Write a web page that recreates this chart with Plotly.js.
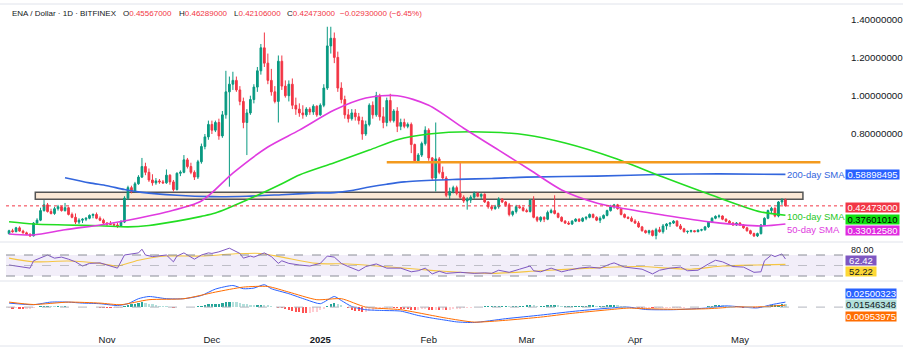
<!DOCTYPE html>
<html><head><meta charset="utf-8">
<script src="https://cdn.plot.ly/plotly-3.0.1.min.js"></script>
<style>html,body{margin:0;padding:0;background:#fff;}#chart{width:903px;height:350px;}</style>
</head><body><div id="chart"></div><script>
// ---- daily candles, 2024-10-04 .. 2025-05-14 ----
const firstDay = [2024, 9, 4];
const open = [
.280,.295,.290,.310,.293,.284,.276,.268,.335,.350,.400,.430,.395,.385,.410,.420,.400,.415,.380,.365,.340,.350,.355,.360,.375,.380,.360,.350,
.335,.332,.328,.325,.320,.340,.465,.520,.500,.540,.575,.630,.600,.560,.545,.555,.550,.545,.585,.550,.510,.595,.600,.665,.630,.600,.575,.655,.735,.785,
.850,.820,.860,.790,.900,1.020,1.060,1.080,1.030,.970,.860,.910,.980,1.045,1.130,1.250,1.170,1.080,1.020,.970,1.180,1.050,1.000,1.060,.950,.930,.910,.900,.930,.915,.945,
.900,.950,1.040,1.260,1.300,1.200,1.040,.980,.900,.880,.910,.890,.870,.800,.850,.950,.900,1.000,.890,.860,.975,.870,.920,.840,.860,.840,.850,.745,.660,.690,.750,
.820,.675,.570,.670,.600,.570,.480,.500,.520,.490,.470,.450,.455,.470,.490,.475,.485,.445,.420,.410,.420,.460,.445,.430,.380,.395,.420,.415,
.400,.395,.455,.365,.350,.365,.355,.390,.400,.385,.365,.345,.335,.330,.345,.355,.345,.360,.365,.380,.365,.350,.360,.375,.400,.420,.430,.410,.380,.365,.360,
.345,.335,.315,.295,.285,.295,.270,.300,.290,.320,.330,.335,.345,.320,.305,.290,.292,.295,.290,.298,.300,.315,.340,.360,.370,.372,.355,.345,.335,.325,
.335,.325,.310,.295,.280,.268,.280,.325,.360,.400,.412,.372,.445,.45567];
const high = [
.300,.305,.315,.318,.300,.290,.282,.340,.360,.415,.455,.440,.410,.420,.430,.425,.440,.420,.390,.385,.360,.360,.365,.380,.385,.390,.370,.358,
.340,.345,.340,.335,.350,.475,.530,.530,.550,.585,.675,.650,.620,.590,.570,.565,.560,.615,.590,.560,.600,.610,.690,.675,.650,.610,.665,.750,.800,.870,
.870,.870,.880,.920,1.130,1.100,1.125,1.100,1.050,.990,.930,1.000,1.060,1.150,1.270,1.330,1.220,1.140,1.050,1.210,1.210,1.080,1.080,1.090,.990,.960,.950,.940,.940,.955,.950,
.960,1.060,1.360,1.360,1.330,1.230,1.070,1.000,.930,.930,.930,.910,.890,.870,.960,.970,1.020,1.010,.940,.990,1.010,.930,.940,.880,.880,.860,.860,.750,.700,.760,.840,
.830,.680,.860,.680,.630,.580,.520,.530,.530,.650,.480,.470,.480,.500,.495,.490,.490,.450,.430,.430,.470,.465,.450,.440,.400,.430,.430,.420,
.410,.460,.475,.370,.370,.370,.400,.410,.480,.390,.370,.350,.345,.350,.360,.360,.365,.370,.385,.385,.370,.370,.380,.405,.430,.435,.435,.415,.385,.370,.370,
.355,.345,.320,.300,.300,.300,.310,.315,.330,.335,.340,.350,.350,.330,.310,.295,.300,.297,.302,.305,.320,.345,.365,.375,.380,.375,.360,.350,.340,.340,
.340,.330,.315,.300,.285,.285,.330,.365,.405,.420,.418,.450,.465,.46289];
const low = [
.275,.285,.287,.290,.280,.272,.262,.265,.328,.345,.395,.390,.380,.378,.400,.395,.395,.375,.360,.330,.330,.335,.345,.355,.360,.355,.345,.330,
.320,.325,.315,.310,.315,.335,.455,.490,.495,.535,.570,.585,.550,.530,.535,.540,.540,.540,.535,.500,.505,.580,.595,.620,.590,.560,.565,.645,.720,.770,
.800,.810,.770,.780,.880,.525,1.030,1.020,.950,.830,.690,.900,.960,1.020,1.110,1.150,1.060,1.000,.960,.860,1.030,.990,.970,.930,.900,.890,.880,.890,.900,.900,.890,
.895,.940,1.030,1.220,1.170,1.020,.960,.880,.860,.870,.870,.850,.770,.790,.840,.880,.890,.870,.830,.840,.860,.860,.810,.820,.830,.830,.700,.650,.650,.680,.740,
.660,.560,.500,.590,.560,.470,.460,.490,.480,.460,.440,.405,.440,.460,.470,.460,.440,.410,.400,.405,.410,.440,.420,.370,.370,.385,.410,.395,
.390,.390,.360,.340,.340,.340,.350,.385,.380,.360,.340,.330,.325,.325,.340,.340,.340,.350,.360,.360,.345,.335,.355,.370,.395,.410,.405,.375,.360,.355,.340,
.330,.310,.290,.280,.275,.265,.250,.285,.280,.300,.315,.330,.315,.300,.285,.280,.285,.287,.287,.292,.295,.310,.335,.355,.360,.350,.340,.330,.320,.320,
.320,.305,.290,.275,.262,.262,.275,.320,.355,.385,.365,.365,.430,.42106];
const close = [
.295,.290,.310,.293,.284,.276,.268,.335,.350,.400,.430,.395,.385,.410,.420,.400,.415,.380,.365,.340,.350,.355,.360,.375,.380,.360,.350,.335,
.330,.328,.325,.320,.340,.465,.520,.500,.540,.575,.630,.600,.560,.545,.555,.550,.545,.585,.550,.510,.595,.600,.665,.630,.600,.575,.655,.735,.785,.850,
.820,.860,.790,.900,1.020,1.060,1.080,1.030,.970,.860,.910,.980,1.045,1.130,1.250,1.170,1.080,1.020,.970,1.180,1.050,1.000,1.060,.950,.930,.910,.900,.930,.915,.945,.900,
.950,1.040,1.260,1.300,1.200,1.040,.980,.900,.880,.910,.890,.870,.800,.850,.950,.900,1.000,.890,.860,.975,.870,.920,.840,.860,.840,.850,.745,.660,.690,.750,.820,
.675,.570,.670,.600,.570,.480,.500,.520,.490,.470,.450,.460,.470,.490,.475,.485,.445,.420,.410,.420,.460,.445,.430,.380,.395,.420,.415,.400,
.395,.455,.365,.350,.365,.355,.390,.400,.385,.365,.345,.335,.330,.345,.355,.345,.360,.365,.380,.365,.350,.360,.375,.400,.420,.430,.410,.380,.365,.360,.345,
.335,.315,.295,.285,.295,.270,.300,.290,.320,.330,.335,.345,.320,.305,.290,.292,.295,.290,.298,.300,.315,.340,.360,.370,.372,.355,.345,.335,.325,.335,
.325,.310,.295,.280,.268,.280,.325,.360,.400,.412,.372,.445,.45403,.42473];

// ---- moving averages (read at sample dates) ----
const sma200Dates = ['2024-10-20','2024-10-27','2024-11-01','2024-11-06','2024-11-11','2024-11-21','2024-12-01','2024-12-11','2024-12-21','2024-12-31','2025-01-05','2025-01-10','2025-01-15','2025-01-20','2025-01-25','2025-02-04','2025-02-09','2025-02-19','2025-03-01','2025-03-21','2025-04-10','2025-04-25','2025-05-14'];
const sma200 = [0.572,0.545,0.530,0.510,0.495,0.480,0.473,0.475,0.483,0.492,0.494,0.505,0.523,0.538,0.550,0.560,0.563,0.568,0.575,0.580,0.590,0.592,0.589];
const sma100Dates = ['2024-10-04','2024-10-11','2024-10-20','2024-10-30','2024-11-07','2024-11-13','2024-11-21','2024-11-28','2024-12-02','2024-12-11','2024-12-21','2024-12-26','2025-01-05','2025-01-15','2025-01-23','2025-02-01','2025-02-13','2025-03-01','2025-03-12','2025-03-26','2025-04-09','2025-04-23','2025-05-07','2025-05-14'];
const sma100 = [0.342,0.330,0.325,0.321,0.315,0.322,0.345,0.370,0.387,0.455,0.540,0.586,0.650,0.716,0.770,0.800,0.812,0.795,0.753,0.675,0.575,0.480,0.393,0.376];
const sma50Dates = ['2024-10-04','2024-10-11','2024-10-20','2024-10-30','2024-11-07','2024-11-18','2024-11-28','2024-12-07','2024-12-17','2024-12-26','2025-01-05','2025-01-14','2025-01-23','2025-02-01','2025-02-11','2025-02-21','2025-03-02','2025-03-11','2025-03-21','2025-03-26','2025-04-09','2025-04-23','2025-05-07','2025-05-14'];
const sma50 = [0.278,0.273,0.300,0.325,0.350,0.393,0.450,0.596,0.732,0.820,0.925,0.988,1.000,0.950,0.830,0.716,0.612,0.508,0.440,0.420,0.377,0.340,0.320,0.330];
const smaLast = [0.58898495, 0.37601010, 0.33012580];

// ---- levels ----
const zonePrice = [0.459, 0.496];
const zoneDates = ['2024-10-11 12:00', '2025-05-19'];
const resistPrice = 0.653;
const resistDates = ['2025-01-20', '2025-05-24'];

// ---- RSI ----
const rsiDates = ['2024-10-04','2024-10-07','2024-10-10','2024-10-11','2024-10-13','2024-10-15','2024-10-17','2024-10-19','2024-10-21','2024-10-23','2024-10-25','2024-10-27','2024-10-30','2024-11-02','2024-11-04','2024-11-06','2024-11-08','2024-11-10','2024-11-11','2024-11-12','2024-11-14','2024-11-16','2024-11-18','2024-11-20','2024-11-21','2024-11-23','2024-11-25','2024-11-26','2024-11-28','2024-11-30','2024-12-01','2024-12-03','2024-12-06','2024-12-07','2024-12-09','2024-12-10','2024-12-12','2024-12-13','2024-12-16','2024-12-18','2024-12-20','2024-12-21','2024-12-23','2024-12-26','2024-12-29','2025-01-01','2025-01-03','2025-01-05','2025-01-07','2025-01-09','2025-01-12','2025-01-14','2025-01-17','2025-01-20','2025-01-24','2025-01-27','2025-01-29','2025-01-31','2025-02-02','2025-02-04','2025-02-06','2025-02-10','2025-02-14','2025-02-17','2025-02-19','2025-02-21','2025-02-24','2025-02-27','2025-03-02','2025-03-03','2025-03-05','2025-03-08','2025-03-11','2025-03-13','2025-03-16','2025-03-19','2025-03-22','2025-03-25','2025-03-26','2025-03-29','2025-03-31','2025-04-03','2025-04-06','2025-04-08','2025-04-11','2025-04-14','2025-04-16','2025-04-19','2025-04-22','2025-04-24','2025-04-26','2025-04-29','2025-05-02','2025-05-05','2025-05-07','2025-05-08','2025-05-10','2025-05-11','2025-05-13','2025-05-14'];
const rsi = [51,48,45,59,64,70,64,66,62,57,49,54,55,49,45,70,72,74,81,70,67,68,70,57,68,74,66,62,70,74,73,76,83,80,73,64,68,66,74,67,54,59,54,51,49,54,68,66,54,48,40,48,53,45,45,38,40,45,34,39,35,37,35,36,35,41,37,43,49,40,38,45,38,41,45,47,45,53,55,47,45,43,34,41,45,47,40,41,53,60,57,48,47,37,38,59,70,67,72,62.42];
const rsiMaDates = ['2024-10-04','2024-10-11','2024-10-21','2024-10-30','2024-11-04','2024-11-10','2024-11-18','2024-11-28','2024-12-07','2024-12-15','2024-12-21','2024-12-31','2025-01-09','2025-01-19','2025-01-29','2025-02-04','2025-02-19','2025-03-05','2025-03-19','2025-04-02','2025-04-17','2025-04-26','2025-05-06','2025-05-14'];
const rsiMa = [64,57,58.5,54,49,60,68,68,72,73,66,54,53,48,43,39.5,35,40,45,48,43,49,51,52.22];

// ---- MACD ----
const macdDates = ['2024-10-04','2024-10-11','2024-10-16','2024-10-21','2024-10-25','2024-10-30','2024-11-04','2024-11-07','2024-11-10','2024-11-13','2024-11-18','2024-11-23','2024-11-28','2024-12-02','2024-12-07','2024-12-10','2024-12-13','2024-12-16','2024-12-18','2024-12-23','2024-12-28','2025-01-01','2025-01-05','2025-01-07','2025-01-10','2025-01-14','2025-01-19','2025-01-24','2025-01-29','2025-02-02','2025-02-06','2025-02-09','2025-02-14','2025-02-23','2025-03-05','2025-03-14','2025-03-24','2025-03-30','2025-04-04','2025-04-12','2025-04-22','2025-04-27','2025-05-06','2025-05-10','2025-05-14'];
const macd = [0.020,0.012,0.025,0.025,0.020,0.017,0.008,0.017,0.042,0.053,0.042,0.042,0.058,0.090,0.108,0.092,0.095,0.112,0.092,0.067,0.037,0.017,0.053,0.033,0.003,-0.013,-0.017,-0.020,-0.042,-0.055,-0.066,-0.074,-0.077,-0.058,-0.040,-0.022,-0.006,0.000,-0.012,-0.013,-0.004,0.006,-0.004,0.012,0.02500323];
const signalDates = ['2024-10-04','2024-10-11','2024-10-21','2024-10-30','2024-11-05','2024-11-13','2024-11-23','2024-12-02','2024-12-10','2024-12-17','2024-12-23','2024-12-31','2025-01-07','2025-01-14','2025-01-24','2025-02-02','2025-02-06','2025-02-14','2025-02-23','2025-03-05','2025-03-14','2025-03-24','2025-03-30','2025-04-04','2025-04-12','2025-04-22','2025-04-30','2025-05-06','2025-05-14'];
const signal = [0.025,0.013,0.025,0.020,0.012,0.037,0.042,0.075,0.100,0.103,0.075,0.037,0.042,0.000,-0.013,-0.042,-0.055,-0.075,-0.066,-0.050,-0.031,-0.014,-0.005,-0.008,-0.011,-0.008,0.001,0.001,0.00953975];
const hist = [
-0.006,-0.007,-0.006,-0.007,-0.008,-0.008,-0.007,-0.003,0.001,0.004,0.006,0.007,0.006,0.005,0.005,0.004,0.004,0.003,0.002,0.001,0,-0.001,-0.001,0,0.001,0,-0.002,-0.003,
-0.004,-0.005,-0.005,-0.005,-0.004,0.004,0.010,0.014,0.017,0.020,0.025,0.022,0.018,0.014,0.010,0.007,0.005,0.004,0.001,-0.002,-0.001,0,0.002,0.003,0.002,0.001,0.004,0.008,0.012,0.015,
0.017,0.018,0.018,0.021,0.025,0.028,0.027,0.025,0.022,0.018,0.015,0.013,0.012,0.012,0.013,0.012,0.009,0.005,0.001,-0.002,-0.005,-0.010,-0.014,-0.018,-0.022,-0.025,-0.028,-0.030,-0.028,-0.025,-0.022,
-0.015,-0.008,0.005,0.015,0.020,0.017,0.010,0.002,-0.006,-0.012,-0.017,-0.021,-0.025,-0.022,-0.018,-0.014,-0.010,-0.007,-0.006,-0.005,-0.004,-0.005,-0.006,-0.007,-0.008,-0.010,-0.012,-0.014,-0.013,-0.011,-0.010,
-0.012,-0.015,-0.014,-0.015,-0.014,-0.015,-0.013,-0.011,-0.009,-0.008,-0.006,-0.004,-0.002,0,0.002,0.003,0.004,0.005,0.005,0.006,0.007,0.007,0.007,0.006,0.007,0.008,0.008,0.008,
0.009,0.010,0.009,0.008,0.008,0.008,0.009,0.010,0.010,0.009,0.008,0.008,0.008,0.008,0.008,0.008,0.008,0.008,0.009,0.009,0.008,0.008,0.008,0.009,0.010,0.010,0.009,0.007,0.005,0.003,0.001,
-0.001,-0.003,-0.004,-0.004,-0.004,-0.005,-0.004,-0.004,-0.003,-0.003,-0.002,-0.002,-0.002,-0.002,-0.002,-0.001,-0.001,0,0,0.001,0.002,0.004,0.007,0.009,0.010,0.009,0.007,0.005,0.003,0.001,
-0.001,-0.002,-0.003,-0.004,-0.005,-0.005,-0.003,0.001,0.005,0.009,0.012,0.013,0.016,0.01546348];

// ---- axis tick labels ----
const monthTicks = ['2024-11-01','2024-12-01','2025-01-01','2025-02-01','2025-03-01','2025-04-01','2025-05-01'];
const monthLabels = ['Nov','Dec','<b>2025</b>','Feb','Mar','Apr','May'];
const priceTicks = [0.8, 1.0, 1.2, 1.4];

// ---------------------------------------------------------------
const dates = open.map((_, i) => new Date(Date.UTC(firstDay[0], firstDay[1], firstDay[2] + i)).toISOString().slice(0, 10));
const n = close.length;
const UP = '#089981', DN = '#F23645';
const histColors = hist.map((v, i) => {
  const p = i > 0 ? hist[i - 1] : v;
  if (v >= 0) return v >= p ? '#26A69A' : '#B2DFDB';
  return v < p ? '#FF5252' : '#FFCDD2';
});
const C200 = '#3366DD', C100 = '#22DD22', C50 = '#E03BE0';
const FONT = 'Liberation Sans, Arial, sans-serif';

const traces = [
  {type:'candlestick', x:dates, open:open, high:high, low:low, close:close, xaxis:'x', yaxis:'y',
   increasing:{line:{color:UP,width:1}, fillcolor:UP}, decreasing:{line:{color:DN,width:1}, fillcolor:DN},
   whiskerwidth:0, hoverinfo:'skip'},
  {type:'scatter', mode:'lines', x:sma200Dates, y:sma200, line:{color:C200,width:1.6,shape:'spline',smoothing:0.8}, yaxis:'y', hoverinfo:'skip'},
  {type:'scatter', mode:'lines', x:sma100Dates, y:sma100, line:{color:C100,width:1.6,shape:'spline',smoothing:0.8}, yaxis:'y', hoverinfo:'skip'},
  {type:'scatter', mode:'lines', x:sma50Dates, y:sma50, line:{color:C50,width:1.6,shape:'spline',smoothing:0.8}, yaxis:'y', hoverinfo:'skip'},
  {type:'scatter', mode:'lines', x:rsiMaDates, y:rsiMa, line:{color:'#F5C542',width:1.1,shape:'spline',smoothing:0.8}, yaxis:'y2', hoverinfo:'skip'},
  {type:'scatter', mode:'lines', x:rsiDates, y:rsi, line:{color:'#7E57C2',width:1}, yaxis:'y2', hoverinfo:'skip'},
  {type:'bar', x:dates, y:hist, marker:{color:histColors, line:{width:0}}, width:0.65*86400000, yaxis:'y3', hoverinfo:'skip'},
  {type:'scatter', mode:'lines', x:macdDates, y:macd, line:{color:'#2962FF',width:1,shape:'spline',smoothing:0.6}, yaxis:'y3', hoverinfo:'skip'},
  {type:'scatter', mode:'lines', x:signalDates, y:signal, line:{color:'#FF6D00',width:1,shape:'spline',smoothing:0.6}, yaxis:'y3', hoverinfo:'skip'}
];

// pixel helpers for paper coordinates (plot area 6..843 x 5..330)
const PL = 6, PR = 60, PT = 5, PB = 20, W = 903, H = 350;
const pw = W - PL - PR, ph = H - PT - PB;
const py = (pix) => (H - PB - pix) / ph;
const pxr = (pix) => (pix - PL) / pw;

const sep = (pix) => ({type:'line', xref:'paper', yref:'paper', x0:pxr(0), x1:pxr(903), y0:py(pix), y1:py(pix), line:{color:'#E0E3EB', width:1}});
const shapes = [
  {type:'rect', xref:'x', yref:'y', x0:zoneDates[0], x1:zoneDates[1], y0:zonePrice[0], y1:zonePrice[1], fillcolor:'#FCE9D6', line:{color:'#555555', width:1.5}, layer:'below'},
  {type:'line', xref:'x', yref:'y', x0:resistDates[0], x1:resistDates[1], y0:resistPrice, y1:resistPrice, line:{color:'#F39A1E', width:2.5}},
  {type:'line', xref:'paper', yref:'y', x0:0, x1:1, y0:close[n-1], y1:close[n-1], line:{color:DN, width:1, dash:'dot'}},
  {type:'rect', xref:'paper', yref:'y2', x0:0, x1:1, y0:30, y1:70, fillcolor:'rgba(126,87,194,0.10)', line:{width:0}, layer:'below'},
  {type:'line', xref:'paper', yref:'y2', x0:0, x1:1, y0:70, y1:70, line:{color:'#8A8D96', width:1, dash:'dash'}},
  {type:'line', xref:'paper', yref:'y2', x0:0, x1:1, y0:50, y1:50, line:{color:'rgba(138,141,150,0.5)', width:1, dash:'dash'}},
  {type:'line', xref:'paper', yref:'y2', x0:0, x1:1, y0:30, y1:30, line:{color:'#8A8D96', width:1, dash:'dash'}},
  {type:'line', xref:'paper', yref:'y3', x0:0, x1:1, y0:0, y1:0, line:{color:'#B2B5BE', width:1, dash:'dash'}},
  sep(4), sep(242), sep(281), sep(346)
];

const box = (yref, val, txt, bg, fg, w, yshift) => ({xref:'paper', yref:yref, x:1, y:val, xanchor:'left', yanchor:'middle', xshift:2, yshift:yshift||0,
  text:txt, showarrow:false, bgcolor:bg, font:{family:FONT, size:9.5, color:fg}, width:w, height:9, borderpad:0, align:'center'});
const lbl = (val, txt, col, yshift) => ({xref:'x', yref:'y', x:dates[n-1], y:val, xanchor:'left', yanchor:'middle', xshift:0, yshift:yshift||0,
  text:txt, showarrow:false, font:{family:FONT, size:9.5, color:col}});
const head = (pix, txt) => ({xref:'paper', yref:'paper', x:pxr(pix), y:py(14), xanchor:'left', yanchor:'middle', text:txt, showarrow:false,
  font:{family:FONT, size:8, color:'#131722'}, borderpad:0});

const chg = close[n-1] - close[n-2];
const pct = chg / close[n-2] * 100;
const fmt = (v) => v.toFixed(8);
const mns = (s) => s.replace('-', '\u2212');
const R = (s) => '<span style="color:#F23645">' + s + '</span>';

const annotations = [
  head(11, 'ENA / Dollar · 1D · BITFINEX'),
  head(122, 'O' + R(fmt(open[n-1]))),
  head(178, 'H' + R(fmt(high[n-1]))),
  head(233, 'L' + R(fmt(low[n-1]))),
  head(286, 'C' + R(fmt(close[n-1]))),
  head(339, R(mns(fmt(chg)) + ' (' + mns(pct.toFixed(2)) + '%)')),
  lbl(smaLast[0], '200-day SMA', C200, 0),
  lbl(smaLast[1], '100-day SMA', '#1FC81F', -1),
  lbl(smaLast[2], '50-day SMA', C50, -6),
  box('y', smaLast[0], fmt(smaLast[0]), '#2962FF', '#FFFFFF', 53, 0),
  box('y', close[n-1], fmt(close[n-1]), '#F23645', '#FFFFFF', 53, -2),
  box('y', smaLast[1], fmt(smaLast[1]), '#11E011', '#000000', 53, -4),
  box('y', smaLast[2], fmt(smaLast[2]), '#E02AE0', '#FFFFFF', 53, -7),
  box('y2', rsi[rsi.length-1], rsi[rsi.length-1].toFixed(2), '#7E57C2', '#FFFFFF', 30, -1.5),
  box('y2', rsiMa[rsiMa.length-1], rsiMa[rsiMa.length-1].toFixed(2), '#FDD835', '#131722', 30, -7),
  box('y3', macd[macd.length-1], fmt(macd[macd.length-1]), '#2962FF', '#FFFFFF', 50, 9),
  box('y3', hist[n-1], fmt(hist[n-1]), '#B2DFDB', '#131722', 50, 0),
  box('y3', signal[signal.length-1], fmt(signal[signal.length-1]), '#FF6D00', '#FFFFFF', 50, -11)
];

const axFont = {family:FONT, size:9.8, color:'#131722'};
const layout = {
  width:W, height:H, margin:{l:PL, r:PR, t:PT, b:PB},
  paper_bgcolor:'#FFFFFF', plot_bgcolor:'#FFFFFF', showlegend:false, hovermode:false, dragmode:false,
  bargap:0,
  xaxis:{type:'date', range:['2024-10-03 03:00','2025-05-30 11:00'], anchor:'y3', tickvals:monthTicks, ticktext:monthLabels,
    showgrid:false, zeroline:false, showline:false, ticks:'', tickfont:{family:FONT, size:9.5, color:'#131722'}, ticklabelstandoff:2, rangeslider:{visible:false}, fixedrange:true},
  yaxis:{domain:[py(241), py(5)], range:[0.2413, 1.4736], side:'right', anchor:'x', tickvals:priceTicks, tickformat:'.8f',
    showgrid:false, zeroline:false, showline:false, ticks:'', tickfont:axFont, ticklabelstandoff:7, fixedrange:true},
  yaxis2:{domain:[py(280), py(243)], range:[22.38, 92.86], side:'right', anchor:'x', tickvals:[80], tickformat:'.2f',
    showgrid:false, zeroline:false, showline:false, ticks:'', tickfont:{family:FONT, size:9, color:'#131722'}, ticklabelstandoff:7, fixedrange:true},
  yaxis3:{domain:[py(330), py(282)], range:[-0.1145, 0.1255], side:'right', anchor:'x', showticklabels:false,
    showgrid:false, zeroline:false, showline:false, ticks:'', fixedrange:true},
  shapes:shapes, annotations:annotations
};

Plotly.newPlot('chart', traces, layout, {staticPlot:true, displayModeBar:false});
</script></body></html>
